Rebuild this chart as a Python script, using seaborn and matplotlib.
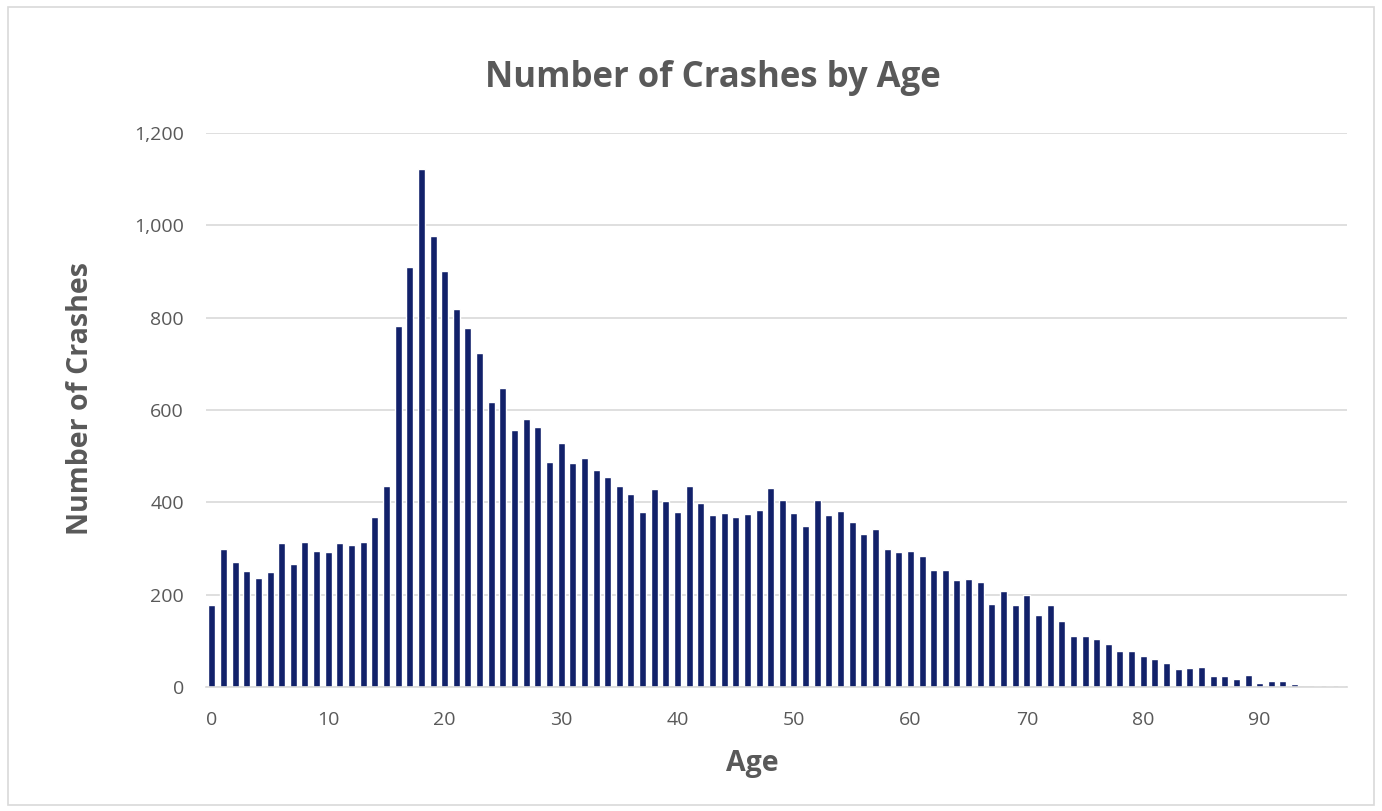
import numpy as np
import pandas as pd
import seaborn as sns
import matplotlib.pyplot as plt
from matplotlib.patches import Rectangle

# crashes per driver age, 0..97
ages = list(range(0, 98))
crashes = [178, 298, 271, 252, 237, 250, 311, 267, 315, 294,
           292, 311, 307, 315, 369, 436, 783, 910, 1123, 977,
           900, 819, 777, 723, 617, 648, 557, 581, 563, 488,
           529, 485, 497, 471, 454, 436, 418, 379, 429, 402,
           379, 436, 398, 373, 377, 369, 375, 383, 432, 404,
           377, 348, 404, 373, 381, 357, 331, 343, 300, 292,
           295, 283, 254, 254, 231, 233, 227, 179, 208, 177,
           200, 156, 177, 144, 110, 110, 104, 93, 78, 78,
           67, 61, 51, 39, 41, 43, 24, 24, 18, 25,
           9, 13, 12, 6, 1, 3, 3, 2]
xtick_ages = list(range(0, 91, 10))
yticks = [0, 200, 400, 600, 800, 1000, 1200]

bar_color = "#12216a"
grey = "#595959"

sns.set_theme(style="white")
plt.rcParams["font.family"] = ["Open Sans", "DejaVu Sans"]

df = pd.DataFrame({"Age": ages, "Crashes": crashes})

fig = plt.figure(figsize=(13.82, 8.11), dpi=100)
ax = fig.add_axes([206 / 1382, 1 - 687 / 811, 1141 / 1382, 554 / 811])

sns.barplot(data=df, x="Age", y="Crashes", color=bar_color, width=0.6,
            saturation=1, ax=ax)

ax.set_ylim(0, 1200)
ax.set_xlim(-0.5, len(ages) - 0.5)
ax.set_yticks(yticks)
ax.set_yticklabels([f"{v:,}" for v in yticks])
ax.set_xticks(xtick_ages)
ax.set_xticklabels([str(a) for a in xtick_ages])
ax.tick_params(axis="y", length=0, pad=16, labelsize=14, labelcolor=grey)
ax.tick_params(axis="x", length=0, pad=17, labelsize=14, labelcolor=grey)

ax.grid(axis="y", color="#d9d9d9", linewidth=1.2)
ax.set_axisbelow(True)
for s in ["left", "right", "top"]:
    ax.spines[s].set_visible(False)
ax.spines["bottom"].set_color("#d9d9d9")
ax.spines["bottom"].set_linewidth(1.2)

ax.set_xlabel("Age", fontsize=20.5, fontweight="bold", color=grey)
ax.xaxis.set_label_coords(0.4785, -0.112)
ax.set_ylabel("Number of Crashes", fontsize=20.5, fontweight="bold", color=grey)
ax.yaxis.set_label_coords(-0.097, 0.52)

fig.text(713 / 1382, 1 - 87 / 811, "Number of Crashes by Age", ha="center",
         va="baseline", fontsize=25, fontweight="bold", color=grey)

# light frame around the chart area
fig.patches.append(Rectangle((8 / 1382, 6 / 811), 1366 / 1382, 798 / 811,
                             transform=fig.transFigure, fill=False,
                             edgecolor="#d9d9d9", linewidth=1.2))

fig.savefig("out.png", dpi=100)
